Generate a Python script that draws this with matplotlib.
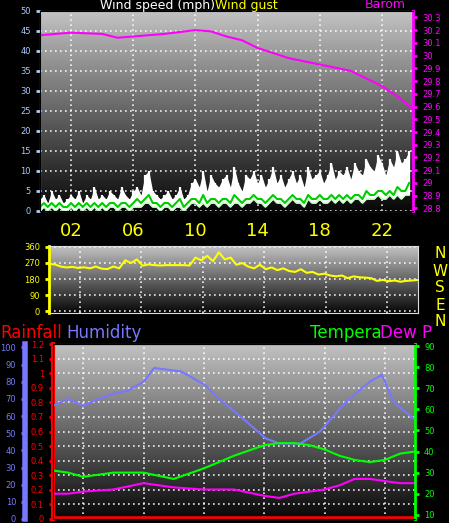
import numpy as np
import matplotlib
matplotlib.use("Agg")
import matplotlib.pyplot as plt

# ---------------- data ----------------
hours_labels = ["02", "06", "10", "14", "18", "22"]
hour_ticks = [2, 6, 10, 14, 18, 22]

# wind gust (mph), 15-min samples 0..24h
gust = [3,4,2,5,3,4,2,3, 4,3,5,2,4,3,6,3, 4,3,5,4,3,6,4,3,
        5,6,4,9,10,5,4,3, 4,5,3,4,6,3,4,7, 8,6,10,5,9,7,6,8,
        9,6,11,7,5,9,8,10, 7,9,6,8,11,7,9,6, 8,10,7,9,6,11,8,9,
        10,7,9,12,8,10,9,11, 8,12,10,9,13,11,10,14, 12,9,13,11,15,12,13,15]
avg_wind = [1,2,1,2,1,2,1,1, 2,1,2,1,2,1,2,1, 2,1,2,2,1,2,2,1,
            2,3,2,3,4,2,2,1, 2,2,1,2,3,1,2,3, 3,2,4,2,3,3,2,3,
            3,2,4,3,2,3,3,4, 3,3,2,3,4,3,3,2, 3,4,3,3,2,4,3,3,
            4,3,3,4,3,4,3,4, 3,4,4,3,5,4,4,5, 5,4,5,4,6,5,5,7]
low_wind = [0,1,0,1,0,1,0,0, 1,0,1,0,1,0,1,0, 1,0,1,1,0,1,1,0,
            1,1,1,2,2,1,1,0, 1,1,0,1,1,0,1,2, 2,1,2,1,2,2,1,2,
            2,1,2,2,1,2,2,3, 2,2,1,2,3,2,2,1, 2,3,2,2,1,3,2,2,
            3,2,2,3,2,3,2,3, 2,3,3,2,3,3,3,4, 3,3,4,3,4,3,4,4]

press_h = [0, 2, 4, 5, 6, 8, 10, 11, 12, 13, 14, 16, 18, 20, 22, 23, 24]
pressure = [30.16, 30.18, 30.17, 30.14, 30.15, 30.17, 30.20, 30.19, 30.15,
            30.12, 30.06, 29.98, 29.93, 29.88, 29.76, 29.68, 29.58]

# wind direction (degrees), 30-min samples
direction = [265,262,250,245,248,242,246,240,250,238,236,250,240,285,270,290,
             255,262,258,256,258,258,258,258,256,300,285,310,280,330,290,300,
             260,270,250,240,260,235,245,230,240,225,220,235,215,220,205,210,
             200,195,200,185,195,190,188,185,170,175,168,172,165,170,172,175]

hum_h = [0, 1, 2, 3, 4, 5, 6, 6.7, 8.5, 10.1, 11, 12.4, 14.1, 15, 16.4, 17.7, 19.4, 21, 21.8, 22.6, 23.7, 24]
humidity = [66, 70, 66, 70, 73, 75, 80, 88, 86, 78, 70, 60, 47, 44, 44, 51, 68, 80, 84, 68, 60, 58]

temp_h = [0, 1, 2, 4, 6, 8, 10, 12, 14, 15, 16, 17, 18, 19, 20, 21, 22, 23, 24]
temperature = [31, 30, 28, 30, 30, 27, 32, 38, 43, 44, 44, 43, 41, 38, 36, 35, 36, 39, 40]
dewpoint = [20, 20, 21, 22, 25, 23, 22, 22, 19, 18, 20, 21, 22, 24, 27, 27, 26, 25, 25]

rain_h = [0, 24]
rainfall = [0, 0]

W, H = 449, 523
fig = plt.figure(figsize=(W/100, H/100), dpi=100, facecolor="black")

def ax_px(x0, y0, x1, y1):
    return fig.add_axes([x0/W, 1-y1/H, (x1-x0)/W, (y1-y0)/H])

grad = np.linspace(0.76, 0.03, 200).reshape(-1, 1)

def bg(ax, ylo, yhi):
    ax.imshow(grad, cmap="gray", vmin=0, vmax=1, aspect="auto",
              extent=[0, 24, ylo, yhi], zorder=0)
    ax.set_xlim(0, 24); ax.set_ylim(ylo, yhi)
    ax.grid(True, color="white", linestyle=(0, (1, 2)), linewidth=1.2, alpha=0.9)
    for s in ax.spines.values():
        s.set_color("#dddddd")

# ---------------- top panel ----------------
ax1 = ax_px(40, 11, 413, 211)
bg(ax1, 0, 50)
t15 = np.arange(96) * 0.25
ax1.fill_between(t15, low_wind, gust, color="white", lw=0, zorder=2)
ax1.vlines(t15, low_wind, gust, color="white", lw=1.6, zorder=2)
ax1.plot(t15, avg_wind, color="#00cc00", lw=1.5, zorder=3)
ax1.plot(t15, low_wind, color="#ccffcc", lw=1.2, zorder=3)
ax1.set_yticks(range(0, 51, 5))
ax1.tick_params(axis="y", colors="#aaccff", labelsize=6, length=3, width=2)
ax1.set_xticks(hour_ticks)
ax1.set_xticklabels(hours_labels)
ax1.tick_params(axis="x", colors="yellow", labelsize=13, length=0, pad=8)
ax1b = ax1.twinx()
ax1b.plot(press_h, pressure, color="#ff00ff", lw=1.5)
ax1b.set_ylim(28.78, 30.35)
pt = np.round(np.arange(28.8, 30.31, 0.1), 1)
ax1b.set_yticks(pt)
ax1b.set_yticklabels([f"{v:g}" for v in pt])
ax1b.tick_params(axis="y", colors="#ff00ff", labelsize=6, length=3, width=2)
ax1b.spines["right"].set_color("#ff00ff"); ax1b.spines["right"].set_linewidth(2)

fig.text(100/W, 1-5/H, "Wind speed (mph)", color="white", fontsize=9, va="center")
fig.text(215/W, 1-5/H, "Wind gust", color="yellow", fontsize=9, va="center")
fig.text(365/W, 1-5/H, "Barom", color="#ff00ff", fontsize=9, va="center")

# ---------------- direction panel ----------------
ax2 = ax_px(49, 246, 418, 313)
bg(ax2, -10, 365)
t30 = np.arange(64) * 24/63
ax2.plot(t30, direction, color="yellow", lw=1.5, zorder=3)
ax2.set_yticks([0, 90, 180, 270, 360])
ax2.set_xticks(hour_ticks); ax2.set_xticklabels([])
ax2.tick_params(axis="x", length=0)
ax2.tick_params(axis="y", colors="yellow", labelsize=6, length=3, width=2)
ax2.spines["left"].set_color("yellow"); ax2.spines["left"].set_linewidth(2)
for i, c in enumerate("NWSEN"):
    fig.text(440/W, 1-(254+i*17)/H, c, color="yellow", fontsize=11, ha="center", va="center")

# ---------------- bottom panel ----------------
fig.text(0, 1-333/H, "Rainfall", color="red", fontsize=12, va="center")
fig.text(66/W, 1-333/H, "Humidity", color="#7777ff", fontsize=12, va="center")
fig.text(310/W, 1-333/H, "Tempera", color="#00ff00", fontsize=12, va="center")
fig.text(380/W, 1-333/H, "Dew P", color="#ff00ff", fontsize=12, va="center")

ax3 = ax_px(53, 344, 415, 519)
bg(ax3, 0, 1.2)
ax3.plot(rain_h, rainfall, color="red", lw=4, zorder=4)
rt = np.round(np.arange(0, 1.21, 0.1), 1)
ax3.set_yticks(rt)
ax3.set_yticklabels([f"{v:g}" for v in rt])
ax3.tick_params(axis="y", colors="red", labelsize=6, length=3, width=2)
ax3.spines["left"].set_color("red"); ax3.spines["left"].set_linewidth(3)
ax3.set_xticks(hour_ticks); ax3.set_xticklabels([])
ax3.tick_params(axis="x", length=0)

axh = ax3.twinx()
axh.spines["left"].set_position(("outward", 20))
axh.yaxis.set_label_position("left"); axh.yaxis.set_ticks_position("left")
axh.plot(hum_h, humidity, color="#7777ff", lw=1.5)
axh.set_ylim(0, 102)
axh.set_yticks(range(0, 101, 10))
axh.tick_params(axis="y", colors="#7777ff", labelsize=6, length=3, width=2)
axh.spines["left"].set_color("#7777ff"); axh.spines["left"].set_linewidth(4)
axh.spines["right"].set_visible(False)

axt = ax3.twinx()
axt.plot(temp_h, temperature, color="#00ff00", lw=1.5)
axt.plot(temp_h, dewpoint, color="#ff00ff", lw=1.5)
axt.set_ylim(8, 91)
axt.set_yticks(range(10, 91, 10))
axt.tick_params(axis="y", colors="#00ff00", labelsize=6, length=3, width=2)
axt.spines["right"].set_color("#00ff00"); axt.spines["right"].set_linewidth(2)

fig.savefig("out.png", dpi=100, facecolor="black")
